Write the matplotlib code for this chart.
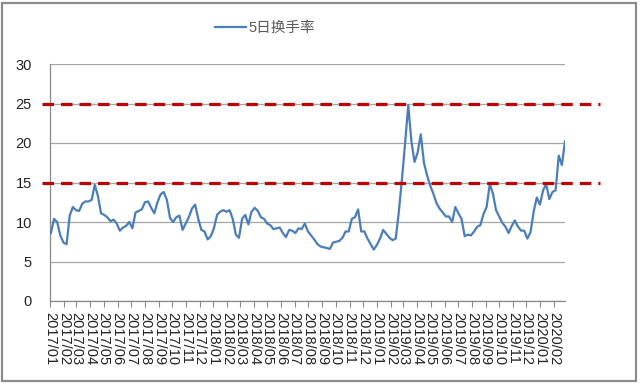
import matplotlib
matplotlib.use("Agg")
from matplotlib import pyplot as plt
from matplotlib import dates as mdates
from matplotlib import transforms
from matplotlib.patches import Rectangle
import pandas as pd

plt.rcParams['font.family'] = ['Liberation Sans', 'Noto Sans CJK SC', 'DejaVu Sans']

series_name = "5日换手率"
# weekly samples of the 5-day turnover rate (%)
turnover = [
    8.6, 10.4, 10.0, 8.3, 7.4, 7.2, 10.8, 11.9, 11.5, 11.4,
    12.3, 12.6, 12.6, 12.8, 14.7, 13.3, 11.1, 10.9, 10.6, 10.1,
    10.3, 9.8, 8.9, 9.3, 9.5, 10.0, 9.2, 11.2, 11.4, 11.6,
    12.5, 12.6, 11.8, 11.1, 12.5, 13.5, 13.8, 12.8, 10.5, 10.0,
    10.6, 10.8, 9.0, 9.8, 10.6, 11.7, 12.2, 10.4, 9.0, 8.8,
    7.8, 8.2, 9.2, 10.9, 11.3, 11.5, 11.3, 11.5, 10.4, 8.4,
    8.0, 10.4, 10.9, 9.7, 11.3, 11.8, 11.4, 10.6, 10.4, 9.8,
    9.6, 9.1, 9.2, 9.3, 8.6, 8.1, 9.0, 8.9, 8.6, 9.2,
    9.1, 9.8, 8.8, 8.3, 7.8, 7.2, 6.9, 6.8, 6.7, 6.6,
    7.4, 7.5, 7.6, 8.0, 8.8, 8.8, 10.4, 10.6, 11.6, 8.8,
    8.8, 7.9, 7.2, 6.5, 7.1, 7.9, 9.0, 8.5, 8.0, 7.7,
    7.9, 11.3, 15.5, 20.0, 24.8, 20.2, 17.6, 18.8, 21.1, 17.5,
    15.9, 14.6, 13.6, 12.4, 11.7, 11.2, 10.7, 10.7, 10.0, 11.9,
    11.1, 10.4, 8.2, 8.4, 8.3, 8.8, 9.4, 9.6, 11.0, 11.9,
    14.8, 13.6, 11.5, 10.7, 9.9, 9.4, 8.6, 9.5, 10.2, 9.4,
    8.9, 8.9, 7.9, 8.7, 11.3, 13.1, 12.2, 14.0, 14.8, 12.9,
    13.8, 14.0, 18.4, 17.2, 20.2,
]
dates = pd.date_range("2017-01-03", periods=len(turnover), freq="7D")
month_ticks = pd.date_range("2017-01-01", "2020-02-01", freq="MS")
thresholds = [15, 25]
y_ticks = [0, 5, 10, 15, 20, 25, 30]

fig = plt.figure(figsize=(6.4, 3.85), dpi=100)
ax = fig.add_axes([50 / 640, 1 - 301 / 385, 515 / 640, 237 / 385])

ax.plot(dates, turnover, color="#4A7EBB", lw=1.6, label=series_name, zorder=3)

ax.set_ylim(0, 30)
ax.set_yticks(y_ticks)
ax.set_xlim(pd.Timestamp("2017-01-01"), dates[-1])
ax.set_xticks(month_ticks)
ax.xaxis.set_major_formatter(mdates.DateFormatter("%Y/%m"))
ax.tick_params(axis="x", rotation=-90, labelsize=10.5, length=4, width=0.8,
               color="#888888", pad=4, labelcolor="#222222")
ax.tick_params(axis="y", length=0, labelsize=10.5, pad=13, labelcolor="#222222")
for lbl in ax.get_xticklabels():
    lbl.set_va("top")

ax.grid(axis="y", color="#A6A6A6", lw=0.9)
ax.set_axisbelow(True)
for side in ["top", "right"]:
    ax.spines[side].set_visible(False)
for side in ["left", "bottom"]:
    ax.spines[side].set_color("#888888")
    ax.spines[side].set_linewidth(0.9)

# red dashed guide lines run a little past the plot area
trans = transforms.blended_transform_factory(fig.transFigure, ax.transData)
for t in thresholds:
    ax.plot([42 / 640, 600 / 640], [t, t], transform=trans, color="#C00000",
            lw=2.3, dashes=(3.6, 2.2), clip_on=False, zorder=4)

fig.legend(loc="center", bbox_to_anchor=(265 / 640, 1 - 28 / 385), frameon=False,
           handlelength=2.1, handletextpad=0.15, fontsize=10.5, labelcolor="#595959")

fig.patches.append(Rectangle((2 / 640, 4 / 385), 634 / 640, 378 / 385,
                             transform=fig.transFigure, fill=False,
                             edgecolor="#8C8C8C", lw=1.6))

fig.savefig("out.png", dpi=100)
